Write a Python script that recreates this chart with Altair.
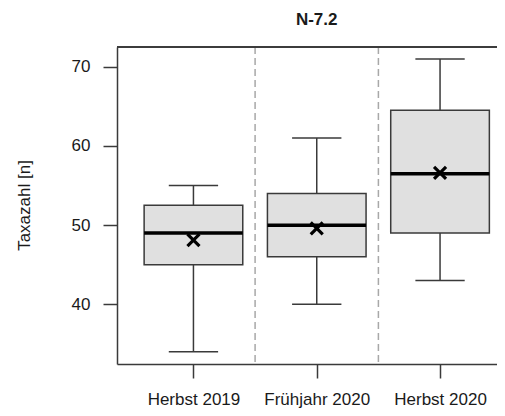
import json
import altair as alt
import pandas as pd

# ---- data ----
seasons = ["Herbst 2019", "Frühjahr 2020", "Herbst 2020"]
positions = [1, 2, 3]
mins = [34, 40, 43]
q1s = [45, 46, 49]
medians = [49, 50, 56.5]
q3s = [52.5, 54, 64.5]
maxs = [55, 61, 71]
means = [48.1, 49.6, 56.6]
separators = [1.5, 2.5]
y_ticks = [40, 50, 60, 70]
title_text = "N-7.2"

df = pd.DataFrame({
    "season": seasons, "pos": positions, "min": mins, "q1": q1s,
    "median": medians, "q3": q3s, "max": maxs, "mean": means,
})
sep_df = pd.DataFrame({"sep": separators})

W, H = 380, 317
FONT = "Liberation Sans"
FS = 17
DARK = "#3a3a3a"

x_scale = alt.Scale(domain=[0.38, 0.38 + W / 123.3], nice=False, zero=False)
y_scale = alt.Scale(domain=[32.46, 72.5], nice=False, zero=False)

label_expr = json.dumps(seasons) + "[datum.value - 1]"
x_axis = alt.Axis(values=positions, labelExpr=label_expr, title=None, grid=False,
                  tickSize=14, labelPadding=13, domainColor=DARK, tickColor=DARK,
                  domainWidth=1.5, tickWidth=1.5, labelFont=FONT, labelFontSize=FS,
                  labelColor="#1a1a1a")
y_axis = alt.Axis(values=y_ticks, title="Taxazahl [n]", grid=False, tickSize=14,
                  labelPadding=13, domainColor=DARK, tickColor=DARK, domainWidth=1.5,
                  tickWidth=1.5, labelFont=FONT, labelFontSize=FS, labelColor="#1a1a1a",
                  titleFont=FONT, titleFontSize=FS, titleFontWeight="normal",
                  titleColor="#1a1a1a", titleAngle=-90, titleAlign="center",
                  titleBaseline="middle", titleX=-92.5, titleY=158)

base = alt.Chart(df).transform_calculate(
    box_lo="datum.pos - 0.4", box_hi="datum.pos + 0.4",
    cap_lo="datum.pos - 0.2", cap_hi="datum.pos + 0.2",
)

X = lambda f: alt.X(f, type="quantitative", scale=x_scale, axis=x_axis)
Y = lambda f: alt.Y(f, type="quantitative", scale=y_scale, axis=y_axis)

seps = alt.Chart(sep_df).mark_rule(color="#a8a8a8", strokeWidth=1.5, strokeDash=[7, 4]).encode(
    x=X("sep")
)
upper_wh = base.mark_rule(color=DARK, strokeWidth=1.5).encode(x=X("pos"), y=Y("q3"), y2="max")
lower_wh = base.mark_rule(color=DARK, strokeWidth=1.5).encode(x=X("pos"), y=Y("min"), y2="q1")
cap_hi = base.mark_rule(color=DARK, strokeWidth=1.5).encode(x=X("cap_lo"), x2="cap_hi", y=Y("max"))
cap_lo = base.mark_rule(color=DARK, strokeWidth=1.5).encode(x=X("cap_lo"), x2="cap_hi", y=Y("min"))
boxes = base.mark_rect(fill="#e0e0e0", stroke=DARK, strokeWidth=1.5).encode(
    x=X("box_lo"), x2="box_hi", y=Y("q1"), y2="q3"
)
med = base.mark_rule(color="#000", strokeWidth=3.5).encode(x=X("box_lo"), x2="box_hi", y=Y("median"))
mean_pt = base.mark_point(shape="M-1,-1L1,1M1,-1L-1,1", size=144, filled=False,
                          color="#000", strokeWidth=3.2, opacity=1).encode(
    x=X("pos"), y=Y("mean")
)
top_line = alt.Chart(df).mark_rule(color=DARK, strokeWidth=1.5).encode(
    y=alt.value(0), x=alt.value(0), x2=alt.value(W)
)
title_mark = alt.Chart(pd.DataFrame({"t": [title_text]})).mark_text(
    font=FONT, fontSize=FS, fontWeight="bold", color="#1a1a1a", align="center",
    baseline="alphabetic"
).encode(text="t:N", x=alt.value(199.7), y=alt.value(-22))

chart = alt.layer(
    seps, upper_wh, lower_wh, cap_hi, cap_lo, boxes, med, mean_pt, top_line, title_mark
).properties(
    width=W, height=H,
    autosize=alt.AutoSizeParams(type="none"),
    padding={"left": 109, "top": 39, "right": 0, "bottom": 44},
).configure_view(stroke="transparent")

chart.save("out.html", embed_options={"renderer": "svg", "actions": False})
